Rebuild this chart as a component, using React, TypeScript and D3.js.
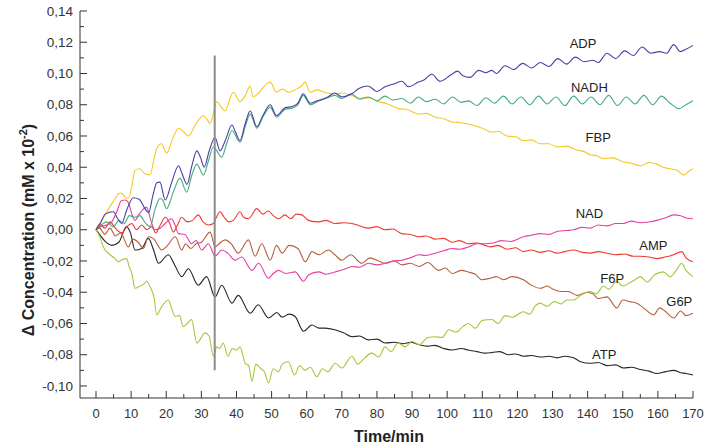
import React from "react";
import * as d3 from "d3";

type Pt = [number, number];

// values in units of 0.01 (axis shows mM x 10^-2 with 0,01 steps)
const ADP: Pt[] = [[0,0],[1.2,0.4],[2.6,1.0],[4.9,1.15],[6.2,0.7],[7.3,0.4],[8.8,1.3],[10.6,2.05],[12.3,1.95],[13.8,1.4],[15,1.1],[16.2,2.2],[17.3,3.0],[18.2,3.05],[19.7,1.9],[21.5,3.0],[23.5,4.1],[24.5,3.6],[25.9,2.9],[27.3,4.1],[28.7,5.05],[29.8,4.6],[30.8,4.0],[32.3,5.1],[33.9,5.9],[35.3,5.05],[36.8,5.7],[38.7,6.7],[39.8,6.2],[41,5.7],[42.5,6.8],[43.9,7.6],[45.8,6.6],[47.5,7.3],[49.6,8.0],[51.4,7.3],[53.8,7.8],[56,7.9],[57.5,8.1],[59,8.7],[61,8.1],[63,8.25],[66,8.5],[68,8.75],[70,8.5],[72.8,8.7],[75,9.05],[77.5,9.2],[80,8.85],[82.3,9.15],[85,9.35],[87.1,9.5],[89,9.15],[91.8,9.45],[93.5,9.6],[95.6,9.95],[98,9.5],[101,9.9],[103,10.15],[104.5,9.85],[106.5,9.75],[109,10.2],[111,10.05],[112.7,10.2],[114,10.0],[116.5,10.5],[119,10.25],[121.5,10.65],[124,10.35],[126.5,10.7],[129,10.45],[131.5,10.95],[134,10.6],[136.5,11.05],[139,10.75],[141.5,10.85],[143,10.7],[145.5,11.3],[148,10.95],[150.5,11.45],[153,11.15],[155.5,11.7],[158,11.3],[160.5,11.4],[162.5,11.3],[164.5,11.85],[166.4,11.4],[168,11.55],[170,11.8]];

const NADH: Pt[] = [[0,0],[1.5,0.3],[3,0.5],[5,0.2],[6.5,0.6],[8,0.4],[9.5,0.9],[11.1,0.8],[12.5,0.9],[14,0.45],[15.4,0.2],[16.8,1.3],[18.2,2.0],[19,1.9],[20.1,1.35],[22,2.4],[23.9,3.3],[25.8,2.4],[27.3,3.5],[28.7,4.2],[30.6,3.5],[32,4.4],[33.4,5.3],[35.8,4.65],[37.2,5.5],[38.7,6.35],[41,5.6],[42.5,6.6],[43.9,7.4],[45.8,6.5],[47.5,7.2],[49.6,7.85],[51.4,7.2],[53.8,7.7],[56,7.8],[57.5,8.0],[59,8.6],[61,8.0],[63,8.2],[66,8.45],[68,8.6],[70,8.4],[72.8,8.7],[75,8.35],[77.5,8.5],[80,8.25],[82.3,8.55],[84.5,8.3],[87.1,8.4],[89.5,8.1],[91.8,8.5],[94,8.2],[96.6,8.35],[99,8.05],[101.5,8.5],[104,8.15],[106,8.25],[108.5,7.95],[111,8.45],[113.5,8.1],[116,8.55],[118.5,8.05],[121,8.5],[123.5,8.0],[126,8.55],[128.5,8.05],[131,8.5],[133.5,7.95],[136,8.55],[138.5,8.05],[141,8.5],[143.5,8.0],[146,8.6],[148.5,7.95],[151,8.5],[153.5,8.05],[156,8.6],[158.5,8.0],[161,8.55],[163.5,8.1],[166,7.75],[168,8.0],[170,8.25]];

const FBP: Pt[] = [[0,0],[1.1,0.4],[2.5,0.9],[4,1.5],[5.2,1.9],[6.4,2.3],[7.3,2.35],[8.2,2.1],[9.2,2.0],[10.2,2.8],[11.1,3.8],[12.5,3.9],[13.8,3.6],[15.4,3.5],[16.4,4.4],[17.3,5.2],[18.7,5.5],[19.5,5.1],[20.1,4.9],[21.8,5.8],[23.5,6.5],[24.8,6.3],[26.3,6.0],[28.5,6.8],[30.6,7.3],[31.5,7.1],[32.5,6.8],[34.4,8.2],[35.5,7.9],[36.8,7.6],[38,8.3],[39.1,8.8],[41,8.2],[42.5,8.6],[43.9,9.2],[44.7,8.5],[46.5,8.8],[48.6,9.35],[49.6,9.45],[51.4,8.8],[53,9.0],[55,8.8],[57,9.0],[58.5,9.2],[59.5,9.45],[61,8.8],[63,8.95],[65,8.8],[68,8.7],[70,8.75],[72.8,8.6],[75.7,8.4],[78,8.45],[80.5,8.2],[83,8.05],[86.2,7.75],[88.5,7.7],[91.9,7.4],[94,7.45],[96.7,7.2],[99,7.1],[101.4,6.9],[104,6.85],[107.1,6.7],[110,6.5],[112.7,6.25],[114.5,6.3],[117,6.0],[119.5,5.95],[121.7,5.7],[124,5.75],[126.5,5.5],[129,5.5],[131.3,5.3],[134,5.35],[137,5.1],[139,5.0],[140.7,4.8],[142.5,4.75],[144.5,4.55],[147,4.6],[150.2,4.35],[152.5,4.25],[155,4.1],[157.5,4.3],[159.7,4.2],[161.5,4.0],[163.5,3.9],[165.5,3.8],[167.3,3.5],[168.5,3.7],[170,3.9]];

const NAD: Pt[] = [[0,0],[1.5,0.2],[3,0.3],[4.5,0.5],[6,1.2],[7.2,1.85],[8.3,1.9],[9.3,1.7],[10.2,1.0],[11.1,0.6],[12.3,1.0],[13.4,1.3],[14.4,1.45],[15.6,0.6],[16.8,0.0],[18.3,0.1],[19.7,0.4],[21.5,0.7],[22.5,0.3],[23.5,-0.25],[25.3,-0.3],[27.2,-0.9],[28.5,-0.7],[30.1,-1.3],[32,-0.9],[33.9,-1.7],[35.8,-1.3],[37.5,-1.5],[39.6,-1.95],[41.5,-1.75],[44.4,-2.6],[46.3,-2.15],[49.1,-3.1],[50.5,-2.8],[52,-2.6],[54,-2.8],[56.7,-2.7],[59.1,-3.3],[60.5,-2.9],[63.4,-2.7],[65.5,-2.85],[68.1,-2.7],[70.5,-2.55],[72.9,-2.35],[75,-2.4],[77.6,-2.15],[80,-2.25],[82.3,-2.15],[84.5,-2.0],[87.1,-1.95],[89.5,-1.8],[91.9,-1.6],[94,-1.65],[96.6,-1.5],[99,-1.35],[101.4,-1.2],[103.5,-1.25],[106.1,-1.1],[108.5,-0.9],[110.8,-0.9],[113,-0.85],[115.5,-0.7],[118,-0.75],[121.7,-0.45],[124,-0.35],[126.5,-0.25],[129,-0.3],[131.5,-0.1],[134,-0.05],[136,0.0],[138.5,0.15],[140.7,0.1],[143,0.3],[145.5,0.25],[148,0.4],[150.2,0.4],[152.5,0.55],[155,0.45],[157.5,0.5],[159.7,0.6],[162,0.75],[164.5,0.95],[166.5,0.9],[168,0.75],[170,0.7]];

const AMP: Pt[] = [[0,0],[1.1,0.4],[2.5,0.1],[4,0.5],[5.5,0.1],[7.3,-0.2],[8.8,0.2],[10.2,0.4],[11.5,0.0],[13,0.3],[14.5,0.0],[15.9,0.2],[17,-0.2],[18.3,0.3],[19.7,0.8],[21,0.4],[22,-0.15],[23.2,0.3],[24.4,0.8],[26,0.5],[27.5,0.6],[29.1,0.95],[30.5,0.5],[32,0.3],[33.4,0.4],[34.3,0.8],[35.3,1.15],[36.5,0.8],[37.8,0.5],[39.1,0.6],[41,1.15],[42,0.8],[43.4,0.7],[45.8,1.35],[47.5,1.0],[49,1.2],[50.5,0.9],[52,0.7],[53.8,0.95],[55.5,0.7],[57,1.0],[58.6,0.95],[60.5,0.6],[63.4,0.5],[65.5,0.6],[68.1,0.4],[70.5,0.45],[72.9,0.4],[75,0.25],[77.6,0.1],[80,0.2],[82.3,0.0],[84.5,0.05],[87.1,-0.25],[89.5,-0.3],[91.9,-0.45],[94,-0.4],[96.5,-0.6],[99,-0.55],[101.4,-0.8],[103.5,-0.7],[106.1,-0.9],[108.5,-0.85],[110.8,-1.0],[112.3,-1.1],[114.5,-1.0],[117,-1.25],[119.5,-1.15],[121.7,-1.4],[124,-1.3],[126.5,-1.45],[129,-1.35],[131.3,-1.5],[133.5,-1.4],[136,-1.3],[138.5,-1.45],[140.7,-1.5],[143,-1.4],[145.5,-1.5],[148,-1.6],[150.5,-1.55],[153,-1.7],[155,-1.7],[157.5,-1.75],[159.7,-1.85],[162,-1.75],[164.5,-1.6],[166.8,-1.4],[168,-1.8],[170,-2.05]];

const G6P: Pt[] = [[0,0],[1,0.1],[2.5,-0.3],[4,0.1],[5.5,-0.4],[7,-0.2],[9.2,-1.1],[10.5,-0.6],[12,-0.8],[13.5,-1.2],[14.9,-0.45],[16.5,-0.6],[18.7,-1.3],[20,-1.1],[22.6,-0.45],[24.4,-1.3],[25.5,-0.9],[27,-1.2],[28.5,-0.9],[30,-0.8],[32.5,-0.15],[33.9,-1.1],[35,-0.9],[36.8,-0.65],[38.5,-0.9],[40.5,-1.5],[43.4,-0.65],[45.3,-1.7],[47.2,-0.9],[49.6,-1.95],[51.4,-1.0],[53,-1.5],[55,-1.0],[57.5,-1.2],[59.6,-2.05],[61.5,-1.4],[63.5,-1.6],[66.2,-1.3],[68,-1.6],[70,-1.95],[72.5,-1.6],[75.7,-2.15],[78,-1.8],[80.5,-2.0],[82.3,-2.15],[85,-2.0],[87.1,-2.25],[89.5,-2.15],[92,-2.35],[94.5,-2.1],[97.5,-2.6],[99.5,-2.45],[101.4,-2.8],[104,-2.6],[106,-2.7],[108,-2.85],[109.9,-3.2],[112.3,-3.1],[114,-3.0],[116,-3.2],[118.5,-3.0],[121.7,-3.2],[124,-3.55],[126.5,-3.75],[128.5,-3.6],[130,-3.8],[132.2,-3.95],[134.5,-3.95],[137,-4.2],[139.8,-4.0],[141.5,-4.1],[143,-4.4],[145.5,-4.3],[148.3,-5.0],[150,-4.5],[152,-4.6],[154,-4.7],[155.9,-5.0],[158.8,-5.45],[160.5,-5.0],[162,-5.2],[164.5,-5.65],[166.5,-5.2],[168,-5.5],[170,-5.35]];

const F6P: Pt[] = [[0,0],[1,-0.4],[2.1,-1.1],[4,-1.6],[5.2,-1.8],[6.4,-2.05],[7.5,-1.9],[8.7,-1.85],[9.5,-2.4],[10.2,-2.8],[11.1,-3.75],[12.5,-3.6],[13.5,-3.5],[14.4,-3.3],[15.5,-3.7],[16.5,-4.3],[17.3,-5.45],[18.5,-5.0],[20.6,-4.5],[21.5,-5.0],[22.5,-5.55],[23.8,-5.5],[24.8,-6.2],[26,-6.0],[27.2,-5.75],[28.7,-7.25],[30,-6.9],[31,-6.6],[32.2,-6.8],[33.4,-8.1],[34.4,-7.5],[35.3,-7.6],[36.2,-7.25],[37.6,-8.1],[38.8,-7.6],[40,-7.7],[41,-7.5],[42.5,-8.55],[43.5,-8.7],[44.4,-9.7],[45.5,-8.6],[47,-8.9],[48,-9.1],[49.1,-9.8],[50.5,-8.9],[52,-9.1],[53,-8.6],[54.8,-8.45],[56.5,-9.3],[58,-8.7],[59.5,-9.0],[61,-8.8],[62.9,-9.4],[64.5,-8.9],[66,-9.1],[68.1,-8.55],[70,-8.85],[72.9,-8.1],[74.5,-8.6],[76.5,-8.2],[78.5,-7.9],[80.5,-8.15],[82.3,-7.5],[84,-7.8],[86,-7.25],[88,-7.5],[90,-7.15],[92,-7.35],[94.5,-6.9],[96.6,-6.85],[98.5,-6.9],[100.5,-6.4],[102.5,-6.55],[104.5,-6.2],[106.1,-6.0],[108,-6.3],[110,-5.8],[112.7,-5.75],[114.5,-6.0],[116.5,-5.5],[118.5,-5.6],[121.7,-5.25],[123.5,-5.4],[125,-4.9],[126.5,-4.7],[128.5,-4.9],[130.5,-4.6],[132.5,-4.75],[134,-4.5],[136,-4.5],[138,-4.2],[140.7,-3.95],[142.5,-4.1],[144.5,-3.6],[146,-3.8],[148.3,-3.3],[150,-3.6],[152,-3.4],[153.5,-3.2],[155,-3.0],[157,-3.35],[159,-2.9],[161.6,-2.7],[163.5,-3.0],[165.5,-2.5],[166.8,-2.15],[168,-2.6],[170,-3.0]];

const ATP: Pt[] = [[0,0],[1,-0.3],[2.6,-0.75],[4.5,-1.0],[6.5,-0.8],[8.7,0.2],[9.8,-0.2],[11.1,-1.3],[13,-1.2],[14.9,-0.55],[16.4,-1.3],[17.8,-2.15],[20.6,-1.6],[22.5,-2.3],[24.4,-3.0],[26.3,-2.5],[29.1,-3.55],[31.5,-3.0],[33.9,-4.3],[35.8,-3.55],[38.7,-4.7],[40.5,-4.2],[43.9,-5.35],[46.2,-4.8],[49.1,-5.65],[51.5,-5.3],[53,-5.6],[55,-5.4],[56.7,-5.55],[59.1,-6.5],[61.5,-6.1],[63.5,-6.3],[65.2,-6.3],[68,-6.4],[70.5,-6.6],[72.9,-6.85],[75,-6.8],[77.6,-7.05],[80,-7.0],[82.3,-7.25],[85,-7.2],[87.5,-7.3],[89.5,-7.2],[91.9,-7.35],[94.5,-7.45],[96.5,-7.4],[99,-7.6],[101.4,-7.7],[104,-7.6],[106,-7.7],[108.5,-7.8],[110.8,-7.9],[113,-7.85],[115,-7.8],[117.5,-8.0],[119.5,-7.95],[121.7,-8.1],[124,-8.05],[126.5,-8.15],[129,-8.1],[131.3,-8.2],[133.5,-8.1],[136,-8.2],[138,-8.45],[140.7,-8.55],[143,-8.5],[145.5,-8.7],[148,-8.65],[150.2,-8.85],[152.5,-8.8],[155,-8.95],[157.5,-9.05],[159.7,-9.2],[162,-9.1],[164.5,-9.0],[166.5,-9.15],[168,-9.2],[170,-9.3]];

const seriesNames = ["ATP", "G6P", "F6P", "AMP", "NAD", "FBP", "NADH", "ADP"];
const seriesData: Pt[][] = [ATP, G6P, F6P, AMP, NAD, FBP, NADH, ADP];
const seriesColors = ["#262626", "#b4603c", "#a2c93a", "#ee3a2e", "#e8409e", "#f6c824", "#47ab7b", "#4a40a4"];

// label anchor points in data coordinates (time, value)
const labelNames = ["ADP", "NADH", "FBP", "NAD", "AMP", "F6P", "G6P", "ATP"];
const labelAt: Pt[] = [[138.7, 11.9], [140.5, 9.1], [143, 5.9], [140.5, 1.05], [158.7, -0.98], [147, -3.1], [166.1, -4.56], [144.7, -8.0]];

const xTicks = [0, 10, 20, 30, 40, 50, 60, 70, 80, 90, 100, 110, 120, 130, 140, 150, 160, 170];
const xTickLabels = ["0", "10", "20", "30", "40", "50", "60", "70", "80", "90", "100", "110", "120", "130", "140", "150", "160", "170"];
const yTicks = [-10, -8, -6, -4, -2, 0, 2, 4, 6, 8, 10, 12, 14];
const yTickLabels = ["-0,10", "-0,08", "-0,06", "-0,04", "-0,02", "0,00", "0,02", "0,04", "0,06", "0,08", "0,10", "0,12", "0,14"];
const markerTime = 33.8;
const markerRange: Pt = [-9.0, 11.15];

export default function App() {
  const W = 705, H = 448;
  const x = d3.scaleLinear().domain([-4.56, 170]).range([80, 693]);
  const y = d3.scaleLinear().domain([-10.77, 14]).range([398, 11]);
  const line = d3.line<Pt>().x(d => x(d[0])).y(d => y(d[1])).curve(d3.curveMonotoneX);
  const xMinor = d3.range(5, 170, 10);
  const yMinor = d3.range(-9, 14, 2);
  const font = "Liberation Sans, Arial, Helvetica, sans-serif";
  const axisColor = "#333";
  return (
    <svg width={W} height={H} style={{ position: "fixed", left: 0, top: 0, background: "#fff" }} fontFamily={font}>
      <rect x={0} y={0} width={W} height={H} fill="#fff" />
      {seriesData.map((d, i) => (
        <path key={seriesNames[i]} d={line(d) || ""} fill="none" stroke={seriesColors[i]} strokeWidth={1.1} strokeLinejoin="round" />
      ))}
      <line x1={x(markerTime)} x2={x(markerTime)} y1={y(markerRange[0])} y2={y(markerRange[1])} stroke="#8c8c8c" strokeWidth={2} />
      <line x1={80} x2={80} y1={y(14)} y2={398} stroke={axisColor} strokeWidth={1} />
      <line x1={80} x2={x(170)} y1={398} y2={398} stroke={axisColor} strokeWidth={1} />
      {yTicks.map((t, i) => (
        <g key={"yt" + t}>
          <line x1={80} x2={87} y1={y(t)} y2={y(t)} stroke={axisColor} />
          <text x={73} y={y(t)} dy="0.35em" textAnchor="end" fontSize={13.5} fill="#333">{yTickLabels[i]}</text>
        </g>
      ))}
      {yMinor.map(t => (
        <line key={"ym" + t} x1={80} x2={84} y1={y(t)} y2={y(t)} stroke={axisColor} />
      ))}
      {xTicks.map((t, i) => (
        <g key={"xt" + t}>
          <line x1={x(t)} x2={x(t)} y1={398} y2={391} stroke={axisColor} />
          <text x={x(t)} y={418} textAnchor="middle" fontSize={13} fill="#333">{xTickLabels[i]}</text>
        </g>
      ))}
      {xMinor.map(t => (
        <line key={"xm" + t} x1={x(t)} x2={x(t)} y1={398} y2={394} stroke={axisColor} />
      ))}
      <text x={389} y={442} textAnchor="middle" fontSize={16} fontWeight="bold" fill="#222">Time/min</text>
      <text transform="translate(34,230) rotate(-90)" textAnchor="middle" fontSize={16} fontWeight="bold" fill="#222">
        Δ Concentration (mM x 10<tspan fontSize={11} dy={-7}>-2</tspan><tspan dy={7}>)</tspan>
      </text>
      {labelNames.map((n, i) => (
        <text key={"lb" + n} x={x(labelAt[i][0])} y={y(labelAt[i][1])} dy="0.35em" textAnchor="middle" fontSize={13} fill="#222">{n}</text>
      ))}
    </svg>
  );
}
